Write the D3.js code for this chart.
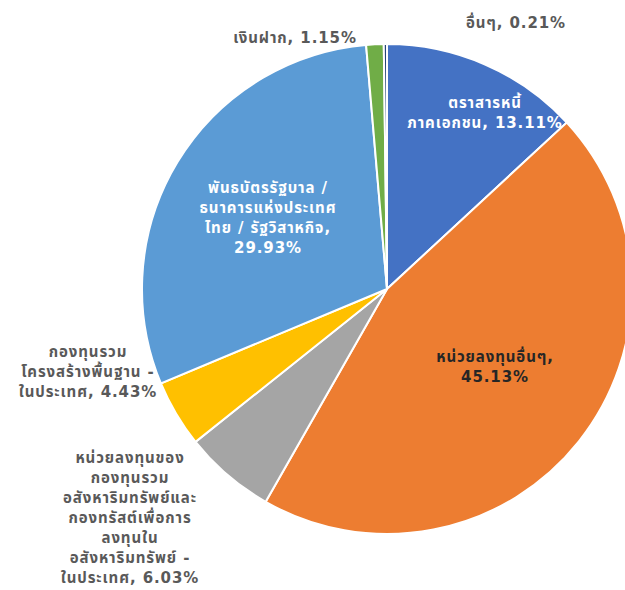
<!DOCTYPE html>
<html>
<head>
<meta charset="utf-8">
<script src="https://cdn.jsdelivr.net/npm/d3@7"></script>
<style>
  body { margin: 0; background: #fff; }
  svg text { font-family: "DejaVu Sans", "Noto Sans Thai", "Noto Sans", sans-serif; font-weight: bold; font-size: 15px; letter-spacing: 0.9px; }
</style>
</head>
<body>
<svg class="chart-svg"></svg>
<script>
const categories = [
    ["ตราสารหนี้", "ภาคเอกชน, 13.11%"],
    ["หน่วยลงทุนอื่นๆ,", "45.13%"],
    ["หน่วยลงทุนของ", "กองทุนรวม", "อสังหาริมทรัพย์และ", "กองทรัสต์เพื่อการ", "ลงทุนใน", "อสังหาริมทรัพย์ -", "ในประเทศ, 6.03%"],
    ["กองทุนรวม", "โครงสร้างพื้นฐาน -", "ในประเทศ, 4.43%"],
    ["พันธบัตรรัฐบาล /", "ธนาคารแห่งประเทศ", "ไทย / รัฐวิสาหกิจ,", "29.93%"],
    ["เงินฝาก, 1.15%"],
    ["อื่นๆ, 0.21%"]
];
const values = [13.11, 45.13, 6.03, 4.43, 29.93, 1.15, 0.21];
const colors = ["#4472C4", "#ED7D31", "#A5A5A5", "#FFC000", "#5B9BD5", "#70AD47", "#264478"];
const labelColors = ["#ffffff", "#262626", "#595959", "#595959", "#ffffff", "#595959", "#595959"];

// label anchor (center x, first line y)
const labelPos = [[485, 108], [495, 362], [130, 463], [88, 357], [268, 193], [295, 43], [516, 28]];

const width = 625, height = 590;
const cx = 387, cy = 289, radius = 245;

const svg = d3.select(".chart-svg")
    .attr("width", width)
    .attr("height", height);

const pie = d3.pie().sort(null).value(d => d);
const arc = d3.arc().innerRadius(0).outerRadius(radius);

const pieGroup = svg.append("g")
    .attr("transform", `translate(${cx},${cy})`);

pieGroup.selectAll("path")
    .data(pie(values))
    .join("path")
    .attr("d", arc)
    .attr("fill", (d, i) => colors[i])
    .attr("stroke", "#ffffff")
    .attr("stroke-width", 2);

const lineHeight = 20;

svg.append("g")
    .selectAll("text")
    .data(categories)
    .join("text")
    .attr("text-anchor", "middle")
    .attr("fill", (d, i) => labelColors[i])
    .attr("x", (d, i) => labelPos[i][0])
    .attr("y", (d, i) => labelPos[i][1])
    .each(function (lines, i) {
        d3.select(this)
            .selectAll("tspan")
            .data(lines)
            .join("tspan")
            .attr("x", labelPos[i][0])
            .attr("dy", (l, j) => j === 0 ? 0 : lineHeight)
            .text(l => l);
    });
</script>
</body>
</html>
